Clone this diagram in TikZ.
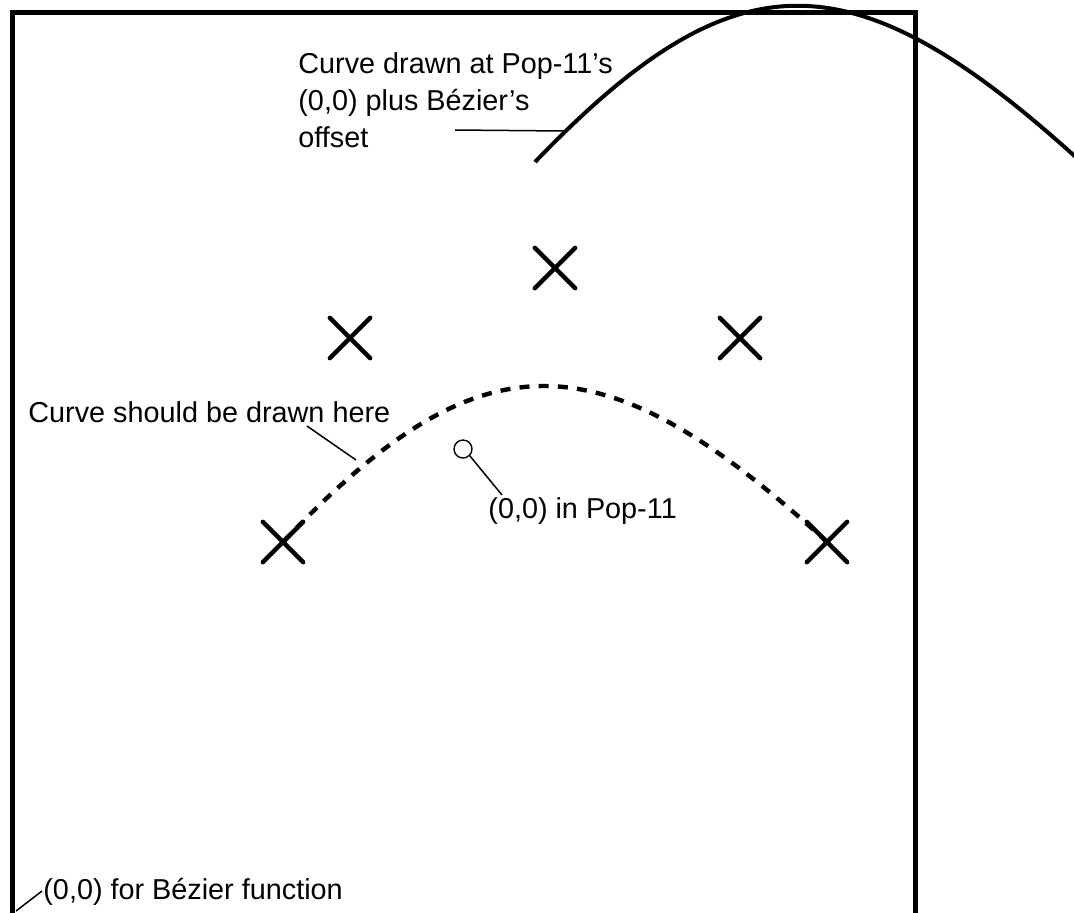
\documentclass[tikz,border=0pt]{standalone}
\usepackage{fontspec}
\setmainfont{Liberation Sans}
\usetikzlibrary{shapes.misc}
\tikzset{
  frameline/.style={line width=2.5pt, line join=miter},
  curveline/.style={line width=2pt},
  dashcurve/.style={line width=2.2pt, dash pattern=on 5pt off 4.6pt},
  xmark/.style={cross out, draw, line width=2.2pt, minimum size=18pt, inner sep=0pt, line cap=round},
  lbl/.style={anchor=west, inner sep=0pt, font=\fontsize{14.4}{18.5}\selectfont, align=left},
  leader/.style={line width=0.75pt},
  origin/.style={circle, draw, line width=0.7pt, minimum size=9pt, inner sep=0pt}
}
\begin{document}
\begin{tikzpicture}[x=0.5pt, y=-0.5pt]
\useasboundingbox[fill=white] (0,0) rectangle (1074,912);
% frame
\draw[frameline] (12,920) -- (12,12) -- (915,12) -- (915,920);
% crosses
\node[xmark] (c1) at (555,268) {};
\node[xmark] (c2) at (350,338) {};
\node[xmark] (c3) at (740,338) {};
\node[xmark] (c4) at (283,542) {};
\node[xmark] (c5) at (827,542) {};
% dashed curve (where it should be drawn)
\draw[dashcurve] (c4.center) .. controls (480,334) and (600,334) .. (c5.center);
% solid curve (drawn with offset)
\coordinate (s0) at (535,162);
\coordinate (s3) at (1079,160);
\draw[curveline] (s0) .. controls (735,-46) and (852,-46) .. (s3);
% labels
\node[lbl] (ltop) at (298,100) {Curve drawn at Pop-11's\\(0,0) plus Bézier's\\offset};
\node[lbl] (lshould) at (28,412) {Curve should be drawn here};
\node[lbl] (lpop) at (488,511) {(0,0) in Pop-11};
\node[lbl] (lbez) at (43,892) {(0,0) for Bézier function};
% origin circle
\node[origin] (o) at (463,449) {};
% leaders
\coordinate (t1) at (455,130);
\coordinate (t2) at (565,131);
\draw[leader] (t1) -- (t2);
\coordinate (sh1) at (307,426);
\coordinate (sh2) at (356,460);
\draw[leader] (sh1) -- (sh2);
\coordinate (p2) at (502,495);
\draw[leader] (o.south east) -- (p2);
\coordinate (b1) at (16,911);
\coordinate (b2) at (42,891);
\draw[leader] (b1) -- (b2);
\end{tikzpicture}
\end{document}
